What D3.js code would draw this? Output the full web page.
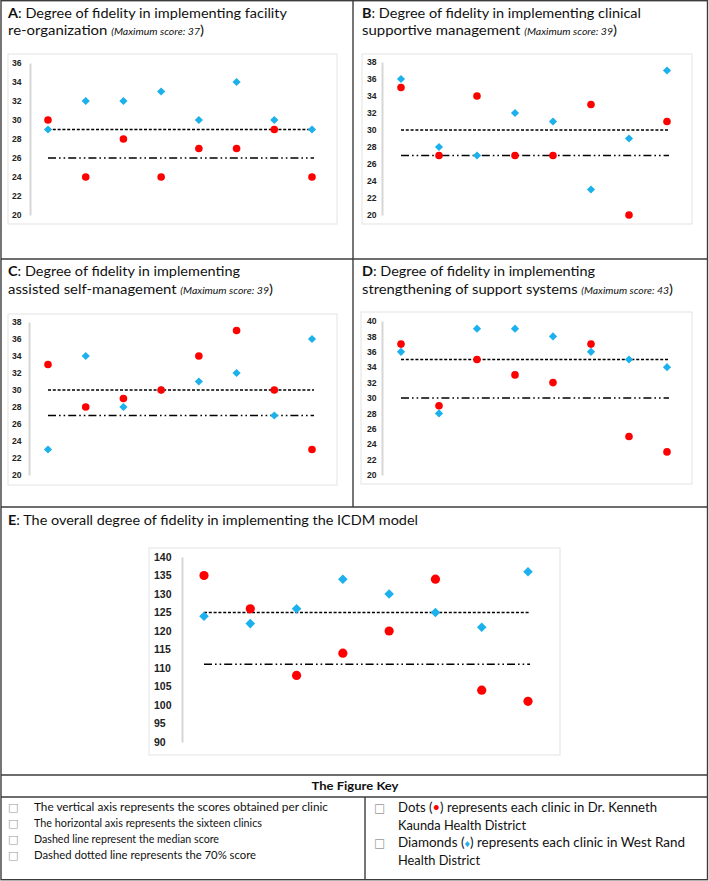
<!DOCTYPE html>
<html><head><meta charset="utf-8">
<script src="https://cdn.jsdelivr.net/npm/d3@7"></script>
<style>
html,body{margin:0;padding:0;background:#fff;}
svg{display:block;font-family:Lato,"Open Sans",sans-serif;}
</style></head>
<body>
<svg id="c" width="709" height="881"></svg>
<script>
// ---------- DATA ----------
const clinics = ["1","2","3","4","5","6","7","8"];
const redA  = [30,24,28,24,27,27,29,24];
const blueA = [29,32,32,33,30,34,30,29];
const redB  = [35,27,34,27,27,33,20,31];
const blueB = [36,28,27,32,31,23,29,37];
const redC  = [33,28,29,30,34,37,30,23];
const blueC = [23,34,28,30,31,32,27,36];
const redD  = [37,29,35,33,32,37,25,23];
const blueD = [36,28,39,39,38,36,35,34];
const redE  = [135,126,108,114,120,134,104,101];
const blueE = [124,122,126,134,130,125,121,136];
const medians = [29,30,30,35,125];
const score70 = [26,27,27,30,111];
const ticksA = [20,22,24,26,28,30,32,34,36];
const ticksB = [20,22,24,26,28,30,32,34,36,38];
const ticksC = [20,22,24,26,28,30,32,34,36,38];
const ticksD = [20,22,24,26,28,30,32,34,36,38,40];
const ticksE = [90,95,100,105,110,115,120,125,130,135,140];
const titleLetters = ["A","B","C","D","E"];
const titleLine1 = [": Degree of fidelity in implementing facility",
                    ": Degree of fidelity in implementing clinical",
                    ": Degree of fidelity in implementing",
                    ": Degree of fidelity in implementing",
                    ": The overall degree of fidelity in implementing the ICDM model"];
const titleLine2 = ["re-organization ","supportive management ","assisted self-management ","strengthening of support systems ",""];
const maxScores = [37,39,39,43,null];
const keyTitle = "The Figure Key";
const keyLeft = ["The vertical axis represents the scores obtained per clinic",
                 "The horizontal axis represents the sixteen clinics",
                 "Dashed line  represent the median score",
                 "Dashed dotted line represents the 70% score"];

// ---------- LAYOUT ----------
const RED = "#ff0000", BLUE = "#1cb0ec";
const svg = d3.select("#c");
const panels = [
 {red:redA, blue:blueA, ticks:ticksA, box:[8,54,337,224], yr:[215,63], ax:30, xr:[48,312], lx:12, fs:8.6, r:3.8, d:4.1,
  tx:8, ty:[18,35], tw:[279,196]},
 {red:redB, blue:blueB, ticks:ticksB, box:[362,54,692,224], yr:[215,62], ax:382, xr:[401,667], lx:367, fs:8.6, r:3.8, d:4.1,
  tx:362, ty:[18,35], tw:[279,255]},
 {red:redC, blue:blueC, ticks:ticksC, box:[8,314,337,485], yr:[475,322], ax:29, xr:[48,312], lx:12, fs:8.6, r:3.8, d:4.1,
  tx:8, ty:[276,294], tw:[232,265]},
 {red:redD, blue:blueD, ticks:ticksD, box:[361,312,692,484], yr:[475,321], ax:382, xr:[401,667], lx:367, fs:8.6, r:3.8, d:4.1,
  tx:362, ty:[276,294], tw:[233,311]},
 {red:redE, blue:blueE, ticks:ticksE, box:[149,548,560,755], yr:[742,557], ax:182, xr:[204,528], lx:154, fs:10.5, r:4.6, d:4.8,
  tx:8, ty:[525], tw:[410]}
];

function fit(t, w){ if(w) t.attr("textLength", w).attr("lengthAdjust","spacingAndGlyphs"); }

// table borders
const bc = "#3c3c3c";
const g0 = svg.append("g").attr("stroke", bc).attr("stroke-width", 1.4).attr("fill","none");
g0.append("rect").attr("x",1).attr("y",0.7).attr("width",706.5).attr("height",879);
[[1,259,708,259],[1,507,708,507],[1,775,708,775],[1,797,708,797],[353,0,353,507],[365,797,365,880]]
  .forEach(l=>g0.append("line").attr("x1",l[0]).attr("y1",l[1]).attr("x2",l[2]).attr("y2",l[3]));

panels.forEach((p,i)=>{
  const g = svg.append("g");
  g.append("rect").attr("x",p.box[0]).attr("y",p.box[1]).attr("width",p.box[2]-p.box[0]).attr("height",p.box[3]-p.box[1])
    .attr("fill","#fff").attr("stroke","#e3e3e3").attr("stroke-width",1);
  const y = d3.scaleLinear().domain(d3.extent(p.ticks)).range(p.yr);
  const x = d3.scalePoint().domain(clinics).range(p.xr);
  const axis = d3.axisLeft(y).tickValues(p.ticks).tickSize(0).tickPadding(0);
  const ag = g.append("g").attr("transform",`translate(${p.ax},0)`).call(axis);
  ag.select(".domain").attr("stroke","#d6d6d6").attr("stroke-width",2);
  ag.selectAll(".tick text").attr("x", p.lx - p.ax).attr("text-anchor","start")
    .attr("font-family","'Liberation Sans',Arial,sans-serif").attr("font-weight","bold")
    .attr("font-size",p.fs).attr("fill","#222");
  const xl0 = p.xr[0], xl1 = p.xr[1] + 2;
  g.append("line").attr("x1",xl0).attr("x2",xl1).attr("y1",y(medians[i])).attr("y2",y(medians[i]))
    .attr("stroke","#000").attr("stroke-width",1.3).attr("stroke-dasharray","3,1.8");
  g.append("line").attr("x1",xl0).attr("x2",xl1).attr("y1",y(score70[i])).attr("y2",y(score70[i]))
    .attr("stroke","#000").attr("stroke-width",1.6).attr("stroke-dasharray","8,3,1.6,3,1.6,3");
  g.selectAll("path.dia").data(p.blue).join("path").attr("class","dia")
    .attr("transform",(v,j)=>`translate(${x(clinics[j])},${y(v)})`)
    .attr("d",`M0,${-p.d}L${p.d},0L0,${p.d}L${-p.d},0Z`).attr("fill",BLUE);
  g.selectAll("circle.dot").data(p.red).join("circle").attr("class","dot")
    .attr("cx",(v,j)=>x(clinics[j])).attr("cy",v=>y(v)).attr("r",p.r).attr("fill",RED);
  const t1 = g.append("text").attr("x",p.tx).attr("y",p.ty[0]).attr("font-size",13.5).attr("fill","#111");
  t1.append("tspan").attr("font-weight","bold").text(titleLetters[i]);
  t1.append("tspan").text(titleLine1[i]);
  fit(t1, p.tw[0]);
  if (titleLine2[i]) {
    const t2 = g.append("text").attr("x",p.tx).attr("y",p.ty[1]).attr("font-size",13.5).attr("fill","#111");
    t2.append("tspan").text(titleLine2[i]);
    t2.append("tspan").attr("font-style","italic").attr("font-size",9.5).text("(Maximum score: " + maxScores[i]);
    t2.append("tspan").text(")");
    fit(t2, p.tw[1]);
  }
});

// ---------- KEY ----------
const kt = svg.append("text").attr("x",355).attr("y",790).attr("text-anchor","middle")
  .attr("font-weight","bold").attr("font-size",12).attr("fill","#111").text(keyTitle);
fit(kt, 87);
const leftY = [811,827,843,859];
const leftW = [294,228,185,222];
keyLeft.forEach((s,j)=>{
  svg.append("text").attr("x",8).attr("y",leftY[j]).attr("font-family","'DejaVu Sans',sans-serif")
    .attr("font-size",11).attr("fill","#999").text("\u25A1");
  const t = svg.append("text").attr("x",34).attr("y",leftY[j]).attr("font-size",11.6).attr("fill","#111").text(s);
  fit(t, leftW[j]);
});
const ry = [812,830,847,865];
[0,2].forEach(j=>svg.append("text").attr("x",374).attr("y",ry[j]).attr("font-family","'DejaVu Sans',sans-serif")
    .attr("font-size",12).attr("fill","#999").text("\u25A1"));
const r1 = svg.append("text").attr("x",398).attr("y",ry[0]).attr("font-size",12.5).attr("fill","#111");
r1.append("tspan").text("Dots (");
r1.append("tspan").attr("fill",RED).text("\u2022");
r1.append("tspan").text(") represents each clinic in Dr. Kenneth");
fit(r1, 259);
const r2 = svg.append("text").attr("x",398).attr("y",ry[1]).attr("font-size",12.5).attr("fill","#111").text("Kaunda Health District");
fit(r2, 128);
const r3 = svg.append("text").attr("x",398).attr("y",ry[2]).attr("font-size",12.5).attr("fill","#111");
r3.append("tspan").text("Diamonds (");
r3.append("tspan").attr("fill",BLUE).attr("font-size",10).text("\u2666");
r3.append("tspan").text(") represents each clinic in West Rand");
fit(r3, 287);
const r4 = svg.append("text").attr("x",398).attr("y",ry[3]).attr("font-size",12.5).attr("fill","#111").text("Health District");
fit(r4, 82);
</script>
</body></html>
